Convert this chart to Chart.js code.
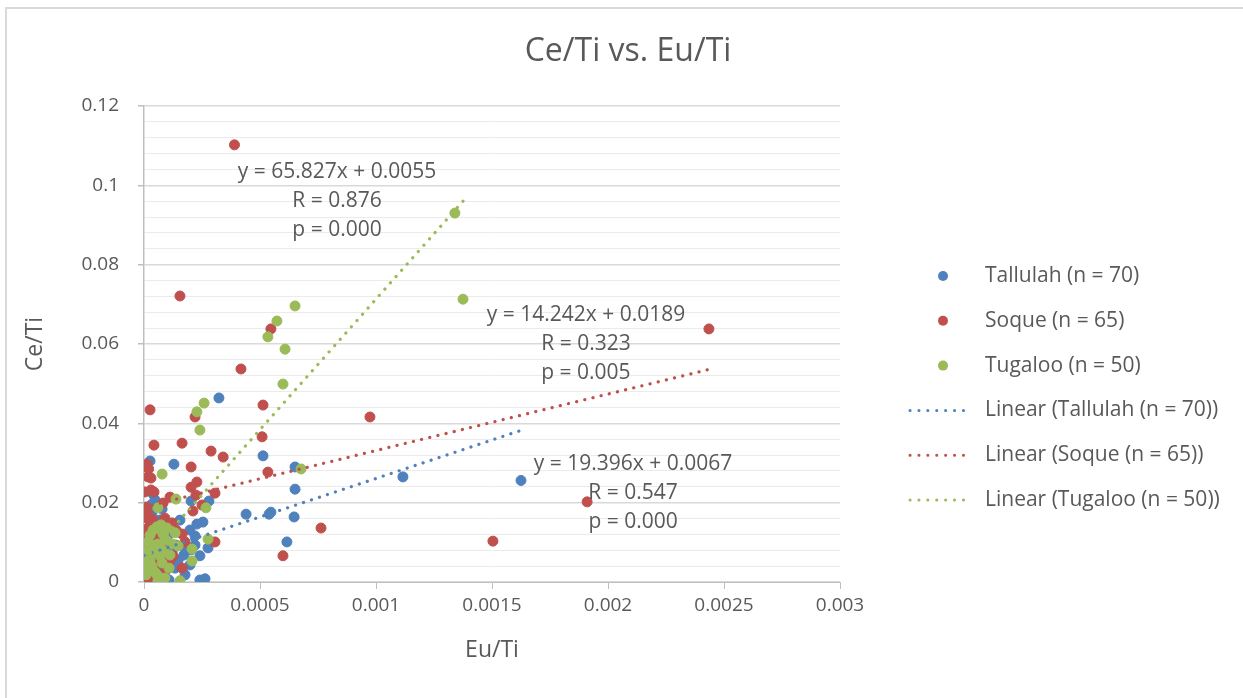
<!DOCTYPE html>
<html>
<head>
<meta charset="utf-8">
<title>Ce/Ti vs. Eu/Ti</title>
<script src="https://cdn.jsdelivr.net/npm/chart.js@4/dist/chart.umd.min.js"></script>
<style>
  html, body { margin: 0; padding: 0; background: #fff; }
  #wrap { width: 1243px; height: 698px; }
</style>
</head>
<body>
<div id="wrap"><canvas id="chart" width="1243" height="698"></canvas></div>
<script>
const TITLE = 'Ce/Ti vs. Eu/Ti';
const X_TITLE = 'Eu/Ti';
const Y_TITLE = 'Ce/Ti';
const SERIES_NAMES = ['Tallulah (n = 70)', 'Soque (n = 65)', 'Tugaloo (n = 50)'];
const SERIES_COLORS = ['#4F81BD', '#C0504D', '#9BBB59'];
const TEXT_COLOR = '#595959';

// [Eu/Ti, Ce/Ti]
const TALLULAH = [
  [0.000323,0.0464],[0.000513,0.0318],[0.000026,0.0305],[0.000129,0.0297],[0.000651,0.0290],
  [0.000651,0.0234],[0.000039,0.0222],[0.000047,0.0207],[0.000203,0.0204],[0.000280,0.0204],
  [0.000440,0.0171],[0.000547,0.0176],[0.000539,0.0171],[0.000647,0.0164],[0.000030,0.0149],
  [0.000254,0.0151],[0.000228,0.0146],[0.000112,0.0136],[0.000220,0.0116],[0.000616,0.0101],
  [0.000026,0.0111],[0.000082,0.0098],[0.000168,0.0091],[0.000203,0.0081],[0.000241,0.0066],
  [0.000172,0.0068],[0.000082,0.0076],[0.000134,0.0035],[0.000108,0.0005],[0.000263,0.0008],
  [0.000000,0.0003],[0.001116,0.0265],[0.001625,0.0256],[0.000022,0.0073],[0.000052,0.0055],
  [0.000026,0.0030],[0.000069,0.0018],[0.000013,0.0088],[0.000138,0.0093],[0.000056,0.0131],
  [0.000034,0.0169],[0.000078,0.0184],[0.000155,0.0156],[0.000009,0.0043],[0.000095,0.0050],
  [0.000177,0.0018],[0.000013,0.0013],[0.000039,0.0000],[0.000198,0.0131],[0.000276,0.0086],
  [0.000009,0.0129],[0.000022,0.0063],[0.000047,0.0086],[0.000060,0.0040],[0.000090,0.0025],
  [0.000121,0.0076],[0.000147,0.0055],[0.000004,0.0098],[0.000030,0.0194],[0.000069,0.0156],
  [0.000103,0.0118],[0.000004,0.0023],[0.000198,0.0043],[0.000047,0.0010],[0.000112,0.0086],
  [0.000017,0.0106],[0.000069,0.0106],[0.000220,0.0093],[0.000026,0.0136],[0.000241,0.0005]
];

const SOQUE = [
  [0.000390,0.1102],[0.000155,0.0721],[0.002435,0.0638],[0.000547,0.0638],[0.000418,0.0537],
  [0.000513,0.0446],[0.000509,0.0366],[0.000974,0.0416],[0.000026,0.0434],[0.000220,0.0416],
  [0.000043,0.0345],[0.000164,0.0350],[0.000289,0.0330],[0.000341,0.0315],[0.000013,0.0297],
  [0.000020,0.0285],[0.000203,0.0290],[0.000534,0.0277],[0.000017,0.0265],[0.000030,0.0262],
  [0.000228,0.0252],[0.000203,0.0239],[0.000030,0.0232],[0.000004,0.0227],[0.000306,0.0224],
  [0.000112,0.0214],[0.000250,0.0194],[0.000009,0.0189],[0.000211,0.0179],[0.000017,0.0174],
  [0.000013,0.0161],[0.000090,0.0161],[0.000121,0.0149],[0.000763,0.0136],[0.000004,0.0124],
  [0.000164,0.0121],[0.000306,0.0101],[0.000009,0.0103],[0.000177,0.0101],[0.000599,0.0066],
  [0.000125,0.0066],[0.000164,0.0035],[0.001504,0.0103],[0.001910,0.0202],[0.000026,0.0093],
  [0.000030,0.0010],[0.000056,0.0043],[0.000009,0.0055],[0.000069,0.0076],[0.000095,0.0030],
  [0.000043,0.0227],[0.000082,0.0199],[0.000224,0.0219],[0.000017,0.0136],[0.000047,0.0111],
  [0.000000,0.0055],[0.000013,0.0025],[0.000078,0.0086],[0.000138,0.0131],[0.000004,0.0002],
  [0.000039,0.0156],[0.000060,0.0131],[0.000112,0.0055],[0.000004,0.0018],[0.000017,0.0120]
];

const TUGALOO = [
  [0.001340,0.0930],[0.001375,0.0713],[0.000651,0.0696],[0.000573,0.0658],[0.000534,0.0618],
  [0.000608,0.0587],[0.000599,0.0499],[0.000259,0.0451],[0.000228,0.0429],[0.000241,0.0383],
  [0.000677,0.0285],[0.000078,0.0272],[0.000138,0.0209],[0.000267,0.0187],[0.000060,0.0187],
  [0.000056,0.0139],[0.000078,0.0129],[0.000099,0.0136],[0.000082,0.0121],[0.000276,0.0108],
  [0.000017,0.0101],[0.000060,0.0096],[0.000121,0.0096],[0.000147,0.0091],[0.000207,0.0083],
  [0.000207,0.0053],[0.000039,0.0073],[0.000060,0.0003],[0.000155,0.0003],[0.000026,0.0055],
  [0.000034,0.0040],[0.000047,0.0025],[0.000078,0.0048],[0.000108,0.0035],[0.000017,0.0081],
  [0.000069,0.0066],[0.000009,0.0018],[0.000090,0.0010],[0.000043,0.0093],[0.000112,0.0068],
  [0.000026,0.0118],[0.000069,0.0086],[0.000056,0.0018],[0.000004,0.0055],[0.000086,0.0078],
  [0.000039,0.0131],[0.000095,0.0106],[0.000017,0.0035],[0.000134,0.0124],[0.000073,0.0144]
];

// linear fits: slope, intercept, R, p
const FIT_SLOPE = [19.396, 14.242, 65.827];
const FIT_INTERCEPT = [0.0067, 0.0189, 0.0055];
const FIT_R = ['0.547', '0.323', '0.876'];
const FIT_P = ['0.000', '0.005', '0.000'];

const X_TICKS = [0, 0.0005, 0.001, 0.0015, 0.002, 0.0025, 0.003];
const Y_MAJOR = 0.02;
const Y_MINOR = 0.004;

const SERIES = [TALLULAH, SOQUE, TUGALOO];

// where each fit label sits (data units, centre of first line)
const LABEL_AT = [[0.002108, 0.0297], [0.001905, 0.0673], [0.000832, 0.1034]];

function isMajor(v) {
  return Math.abs(v / Y_MAJOR - Math.round(v / Y_MAJOR)) < 1e-6;
}

function fitLine(i) {
  const xs = SERIES[i].map(p => p[0]);
  const lo = Math.min(...xs), hi = Math.max(...xs);
  return [lo, hi].map(x => ({ x, y: FIT_SLOPE[i] * x + FIT_INTERCEPT[i] }));
}

const pointSets = SERIES.map((pts, i) => ({
  label: SERIES_NAMES[i],
  data: pts.map(p => ({ x: p[0], y: p[1] })),
  backgroundColor: SERIES_COLORS[i],
  borderColor: SERIES_COLORS[i],
  borderWidth: 1,
  pointRadius: 5,
  order: 5 - i
}));

const trendSets = SERIES.map((_, i) => ({
  label: 'Linear (' + SERIES_NAMES[i] + ')',
  data: fitLine(i),
  showLine: true,
  borderColor: SERIES_COLORS[i],
  borderWidth: 3.2,
  borderDash: [0.1, 8.3],
  borderCapStyle: 'round',
  pointRadius: 0,
  order: 2 - i
}));

const fontStack = '"Open Sans", "Noto Sans", sans-serif';

const extrasPlugin = {
  id: 'extras',
  beforeDraw(chart) {
    const ctx = chart.ctx;
    ctx.save();
    ctx.strokeStyle = '#D9D9D9';
    ctx.lineWidth = 2;
    ctx.strokeRect(6, 8, 1400, 900);
    ctx.restore();
  },
  afterDraw(chart) {
    const { ctx, scales: { x, y } } = chart;
    ctx.save();
    ctx.fillStyle = TEXT_COLOR;
    ctx.textBaseline = 'middle';
    ctx.textAlign = 'center';

    ctx.font = '32px ' + fontStack;
    ctx.fillText(TITLE, 628, 52);

    // fit equations
    ctx.font = '21px ' + fontStack;
    LABEL_AT.forEach((at, i) => {
      const cx = x.getPixelForValue(at[0]);
      const cy = y.getPixelForValue(at[1]);
      const lines = [
        'y = ' + FIT_SLOPE[i].toFixed(3) + 'x + ' + FIT_INTERCEPT[i].toFixed(4),
        'R = ' + FIT_R[i],
        'p = ' + FIT_P[i]
      ];
      lines.forEach((t, k) => ctx.fillText(t, cx, cy + k * 29));
    });

    // legend
    const lx = 943, tx = 985, top = 276, gap = 44.8;
    ctx.textAlign = 'left';
    SERIES_NAMES.forEach((name, i) => {
      const ry = top + i * gap;
      ctx.fillStyle = SERIES_COLORS[i];
      ctx.beginPath();
      ctx.arc(lx, ry, 5, 0, Math.PI * 2);
      ctx.fill();
      ctx.fillStyle = TEXT_COLOR;
      ctx.fillText(name, tx, ry);
    });
    SERIES_NAMES.forEach((name, i) => {
      const ry = top + (i + 3) * gap;
      ctx.strokeStyle = SERIES_COLORS[i];
      ctx.lineWidth = 3;
      ctx.lineCap = 'round';
      ctx.setLineDash([0.1, 8.8]);
      ctx.beginPath();
      ctx.moveTo(910, ry);
      ctx.lineTo(972, ry);
      ctx.stroke();
      ctx.setLineDash([]);
      ctx.fillStyle = TEXT_COLOR;
      ctx.fillText('Linear (' + name + ')', tx, ry);
    });
    ctx.restore();
  }
};

new Chart(document.getElementById('chart'), {
  type: 'scatter',
  data: { datasets: pointSets.concat(trendSets) },
  options: {
    responsive: false,
    animation: false,
    layout: { padding: { left: 0, top: 106, right: 403, bottom: 34 } },
    plugins: { legend: { display: false }, tooltip: { enabled: false }, title: { display: false } },
    scales: {
      x: {
        type: 'linear',
        min: 0,
        max: 0.003,
        afterBuildTicks: s => { s.ticks = X_TICKS.map(v => ({ value: v })); },
        afterFit: s => { s.height = 82; },
        ticks: {
          color: TEXT_COLOR,
          font: { family: fontStack, size: 19 },
          padding: 5,
          maxRotation: 0,
          callback: v => String(+v.toFixed(4))
        },
        grid: { drawOnChartArea: false, drawTicks: true, tickLength: 7, tickColor: '#BFBFBF' },
        border: { color: '#BFBFBF', width: 1 },
        title: { display: true, text: X_TITLE, color: TEXT_COLOR, font: { family: fontStack, size: 23 }, padding: { top: 0, bottom: 0 } }
      },
      y: {
        min: 0,
        max: 0.12,
        afterFit: s => { s.width = 144; },
        ticks: {
          stepSize: Y_MINOR,
          autoSkip: false,
          color: TEXT_COLOR,
          font: { family: fontStack, size: 19 },
          padding: 19,
          callback: v => isMajor(v) ? String(+v.toFixed(2)) : ''
        },
        grid: {
          color: c => isMajor(c.tick.value) ? '#D9D9D9' : '#EBEBEB',
          lineWidth: c => isMajor(c.tick.value) ? 1.5 : 1,
          tickLength: 6,
          tickColor: c => isMajor(c.tick.value) ? '#BFBFBF' : 'rgba(0,0,0,0)'
        },
        border: { color: '#BFBFBF', width: 1.5 },
        title: { display: true, text: Y_TITLE, color: TEXT_COLOR, font: { family: fontStack, size: 23 }, padding: { top: 22, bottom: 0 } }
      }
    }
  },
  plugins: [extrasPlugin]
});
</script>
</body>
</html>
